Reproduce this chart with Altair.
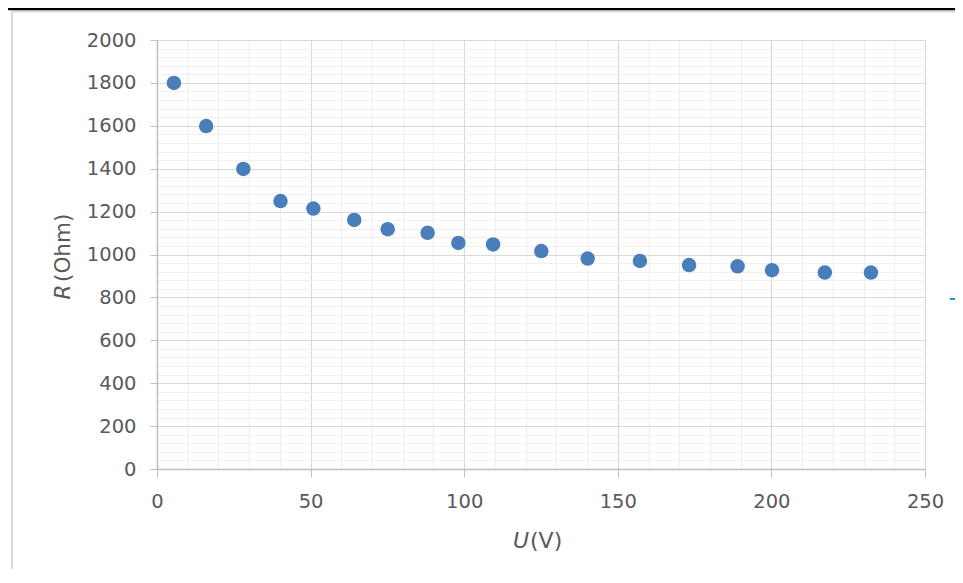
import altair as alt
import pandas as pd

# Data
U = [5.5, 16.0, 28.1, 40.2, 50.9, 64.2, 75.1, 88.1, 98.1, 109.4,
     125.1, 140.2, 157.2, 173.2, 189.0, 200.2, 217.4, 232.4]
R = [1800, 1599, 1399, 1249, 1214, 1161, 1118, 1101, 1054, 1047,
     1016, 981, 970, 951, 945, 927, 916, 916]

x_ticks = list(range(0, 251, 10))
y_ticks = list(range(0, 2001, 40))

df = pd.DataFrame({"U": U, "R": R})
one = pd.DataFrame({"k": [0]})

FONT = "DejaVu Sans"
LABEL = "#595959"
MAJOR = "#D9D9D9"
MINOR = "#F0F0F0"
AXIS = "#BFBFBF"

x_axis = alt.Axis(
    values=x_ticks, title=None, grid=True, format="d", labelFlush=False,
    gridColor={"condition": {"test": "datum.value % 50 === 0", "value": MAJOR}, "value": MINOR},
    gridWidth=1.2,
    tickOpacity={"condition": {"test": "datum.value % 50 === 0", "value": 1}, "value": 0},
    labelExpr="datum.value % 50 === 0 ? datum.label : ''",
    tickSize=8, tickColor=AXIS, domainColor=AXIS, domainWidth=1.5,
    labelFont=FONT, labelFontSize=19.5, labelColor=LABEL, labelPadding=15,
)
y_axis = alt.Axis(
    values=y_ticks, title=None, grid=True, format="d", labelFlush=False,
    gridColor={"condition": {"test": "datum.value % 200 === 0", "value": MAJOR}, "value": MINOR},
    gridWidth=1.2,
    tickOpacity={"condition": {"test": "datum.value % 200 === 0", "value": 1}, "value": 0},
    labelExpr="datum.value % 200 === 0 ? datum.label : ''",
    tickSize=7, tickColor=AXIS, domainColor=AXIS, domainWidth=1.5,
    labelFont=FONT, labelFontSize=19.5, labelColor=LABEL, labelPadding=14,
)

points = alt.Chart(df).mark_circle(size=210, color="#4A7EBB", opacity=1).encode(
    x=alt.X("U:Q", scale=alt.Scale(domain=[0, 250], nice=False, zero=True), axis=x_axis),
    y=alt.Y("R:Q", scale=alt.Scale(domain=[0, 2000], nice=False, zero=True), axis=y_axis),
)

def txt(s, x, y, angle=0, align="center", italic=False, size=21):
    return alt.Chart(one).mark_text(
        text=s, font=FONT, fontSize=size, color=LABEL, angle=angle,
        align=align, baseline="middle", fontStyle="italic" if italic else "normal",
    ).encode(x=alt.value(x), y=alt.value(y))

# axis titles with mixed italic/normal parts
x_title_u = txt("U", 372, 501, align="right", italic=True, size=22)
x_title_v = txt("(V)", 373, 501, align="left", size=22)
y_title_r = txt("R", -93.5, 244.5, angle=270, align="right", italic=True, size=21.5)
y_title_o = txt("(Ohm)", -93.5, 242, angle=270, align="left", size=21.5)

def rule(x1, x2, y1, y2, color, w):
    return alt.Chart(one).mark_rule(color=color, strokeWidth=w).encode(
        x=alt.value(x1), x2=alt.value(x2), y=alt.value(y1), y2=alt.value(y2))

frame_top = rule(-145, 810, -28.5, -28.5, "#D9D9D9", 2)
frame_left = rule(-145, -145, -28.5, 560, "#D9D9D9", 2)
black_top = rule(-160, 810, -31, -31, "#000000", 2.5)
blue_dash = rule(793, 805, 259, 259, "#1E90E8", 2)

chart = alt.layer(
    frame_top, frame_left, black_top, blue_dash,
    points, x_title_u, x_title_v, y_title_r, y_title_o,
).properties(
    width=768, height=429,
    autosize=alt.AutoSizeParams(type="none"),
    padding={"left": 149, "top": 32, "right": 30, "bottom": 100},
    background="white",
).configure_view(strokeWidth=0)

chart.save("out.html", embed_options={"renderer": "svg", "actions": False})
